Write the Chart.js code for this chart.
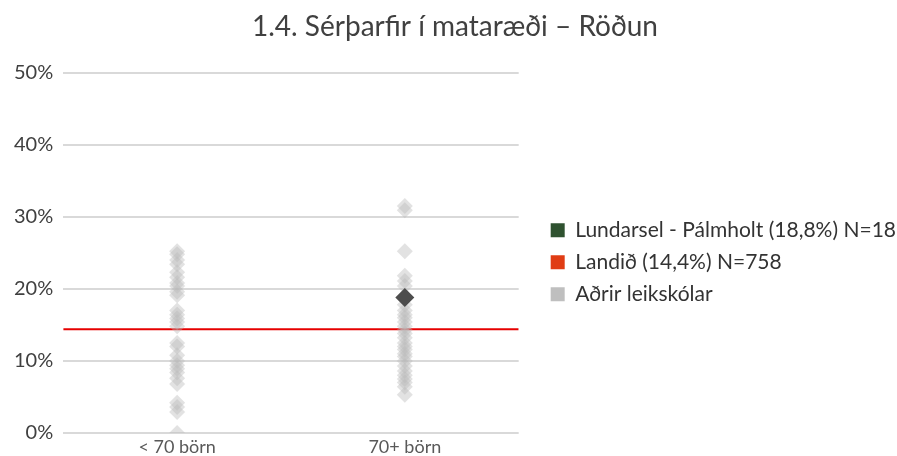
<!DOCTYPE html>
<html>
<head>
<meta charset="utf-8">
<script src="https://cdn.jsdelivr.net/npm/chart.js@4"></script>
<style>
  html, body { margin: 0; padding: 0; background: #fff; }
  #wrap { width: 897px; height: 456px; }
</style>
</head>
<body>
<div id="wrap"><canvas id="chart" width="897" height="456"></canvas></div>
<script>
// categories
const groups = ["< 70 börn", "70+ börn"];

// other preschools (Aðrir leikskólar), values in %
const smallValues = [25.2, 24.8, 24.0, 23.4, 22.3, 21.6, 20.8, 20.4, 19.6, 19.1,
    17.0, 16.4, 15.9, 15.4, 14.8, 12.5, 12.0, 10.8, 10.0, 9.4,
    8.9, 8.4, 7.6, 6.8, 4.2, 3.6, 2.9, 0.0];
const largeValues = [31.5, 30.9, 25.2, 21.8, 21.1, 20.4, 17.8, 17.0, 16.4, 16.0,
    15.4, 14.8, 14.3, 13.8, 13.2, 12.5, 12.0, 11.6, 11.0, 10.6,
    10.0, 9.3, 8.6, 8.0, 7.5, 7.0, 6.4, 5.3];

// this school and the national value
const schoolGroup = "70+ börn";
const schoolValue = 18.8;
const nationalValue = 14.4;

const yTicks = [0, 10, 20, 30, 40, 50];

const legendNames = [
    "Lundarsel - Pálmholt (18,8%) N=18",
    "Landið (14,4%) N=758",
    "Aðrir leikskólar"
];
const legendColors = ["#2f5230", "#e03c14", "#bfbfbf"];

let others = [];
smallValues.forEach(v => others.push({ x: groups[0], y: v }));
largeValues.forEach(v => others.push({ x: groups[1], y: v }));

var ctx = document.getElementById("chart");
var chart = new Chart(ctx, {
    type: 'scatter',
    data: {
        labels: groups,
        datasets: [
            {
                label: legendNames[0],
                data: [{ x: schoolGroup, y: schoolValue }],
                xAxisID: 'x',
                yAxisID: 'y',
                pointStyle: 'rectRot',
                pointRadius: 9.5,
                backgroundColor: '#4d4d4d',
                borderWidth: 0
            },
            {
                label: legendNames[2],
                data: others,
                xAxisID: 'x',
                yAxisID: 'y',
                pointStyle: 'rectRot',
                pointRadius: 8,
                backgroundColor: 'rgba(185, 185, 185, 0.42)',
                borderWidth: 0
            },
            {
                type: 'line',
                label: legendNames[1],
                xAxisID: 'xLine',
                yAxisID: 'y',
                data: [{ x: 0, y: nationalValue }, { x: 1, y: nationalValue }],
                borderColor: '#e60000',
                borderWidth: 2,
                pointRadius: 0,
                fill: false
            }
        ]
    },
    options: {
        responsive: false,
        animation: false,
        layout: { padding: { left: 4, right: -9, top: 0, bottom: 0 } },
        plugins: {
            title: {
                display: true,
                text: "1.4. Sérþarfir í mataræði – Röðun",
                color: '#404040',
                font: { family: 'Lato', size: 28, weight: 'normal' },
                padding: { top: 10, bottom: 29 }
            },
            legend: {
                position: 'right',
                maxWidth: 420,
                // empty title only pushes the centred items down
                title: { display: true, text: '', font: { size: 12 }, padding: { top: 54, bottom: 0 } },
                labels: {
                    color: '#333',
                    font: { family: 'Lato', size: 21 },
                    boxWidth: 14,
                    boxHeight: 14,
                    padding: 11,
                    generateLabels: function () {
                        return legendNames.map((name, i) => ({
                            text: name,
                            fillStyle: legendColors[i],
                            strokeStyle: legendColors[i],
                            lineWidth: 0,
                            fontColor: '#333',
                            hidden: false,
                            datasetIndex: i
                        }));
                    }
                }
            },
            tooltip: { enabled: false }
        },
        scales: {
            x: {
                type: 'category',
                offset: true,
                grid: { display: false, drawTicks: false },
                border: { display: false },
                ticks: {
                    color: '#595959',
                    font: { family: 'Lato', size: 18 },
                    padding: 3
                },
                afterFit: function (scale) { scale.height = 23; }
            },
            xLine: {
                type: 'linear',
                display: false,
                min: 0,
                max: 1
            },
            y: {
                min: 0,
                max: 50,
                afterBuildTicks: function (axis) {
                    axis.ticks = yTicks.map(v => ({ value: v }));
                },
                grid: { color: '#d9d9d9', lineWidth: 2, drawTicks: false },
                border: { display: false },
                ticks: {
                    color: '#404040',
                    font: { family: 'Lato', size: 20 },
                    padding: 10,
                    callback: v => v + '%'
                }
            },
            gap: {
                // empty axis: keeps a gap between plot and legend
                type: 'linear',
                position: 'right',
                grid: { display: false },
                border: { display: false },
                ticks: { display: false },
                afterFit: function (scale) { scale.width = 21; }
            }
        }
    }
});
</script>
</body>
</html>
